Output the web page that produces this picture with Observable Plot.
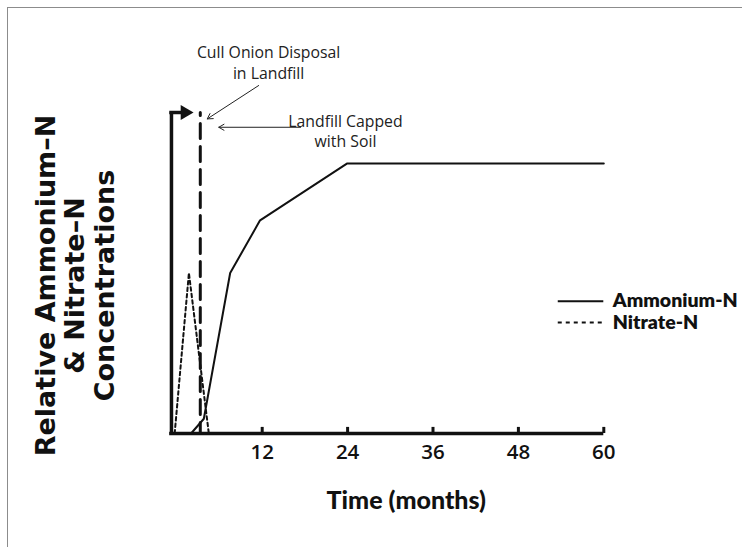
<!DOCTYPE html>
<html><head><meta charset="utf-8">
<script src="https://cdn.jsdelivr.net/npm/d3@7"></script>
<script src="https://cdn.jsdelivr.net/npm/@observablehq/plot@0.6"></script>
<style>
body{margin:0;background:#fff;}
#wrap{position:relative;width:742px;height:547px;overflow:hidden;background:#fff;}
#border{position:absolute;left:7px;top:7px;width:800px;height:600px;border-top:1.5px solid #8c8c8c;border-left:1.5px solid #8c8c8c;pointer-events:none;}
#wrap svg{position:absolute;left:0;top:0;}
</style></head><body><div id="wrap"><div id="border"></div></div>
<script>
// Data (time in months, relative concentration 0-100)
const ammoniumMonths = [2, 3.8, 7.5, 11.7, 23.9, 60];
const ammoniumLevels = [0, 4.6, 50, 66.4, 84.1, 84.1];
const nitrateMonths = [-0.3, 1.7, 4.5];
const nitrateLevels = [0, 50, 0];
const xTickValues = [12, 24, 36, 48, 60];
const tickLength = 1.9;
const cappedMonth = 3.3;          // landfill capped with soil (dashed line)
const axisStartMonth = -1;
const yAxisMonth = -0.75;
const yAxisTop = 100;
const yArrowEndMonth = 1.9;
const annotationTexts = ["Cull Onion Disposal\nin Landfill", "Landfill Capped\nwith Soil"];
const annotationMonths = [12.9, 23.7];
const annotationLevels = [115.7, 94.4];
const arrowFromMonths = [11.5, 17.4];
const arrowFromLevels = [108.4, 95.4];
const arrowToMonths = [4.28, 5.9];
const arrowToLevels = [98.0, 95.4];
const seriesNames = ["Ammonium-N", "Nitrate-N"];
const legendLevels = [41.2, 34.6];
const legendStartMonth = 53.6;
const legendEndMonth = 60;
const xTitle = "Time (months)";
const yTitle = "Relative Ammonium–N\n& Nitrate–N\nConcentrations";

const ammonium = ammoniumMonths.map((m, i) => ({month: m, level: ammoniumLevels[i]}));
const nitrate = nitrateMonths.map((m, i) => ({month: m, level: nitrateLevels[i]}));
const capped = [{month: cappedMonth, level: yAxisTop}, {month: cappedMonth, level: 0}];
const annotations = annotationTexts.map((t, i) => ({text: t, month: annotationMonths[i], level: annotationLevels[i]}));
const arrows = arrowFromMonths.map((m, i) => ({x1: m, y1: arrowFromLevels[i], x2: arrowToMonths[i], y2: arrowToLevels[i]}));
const legend = seriesNames.map((n, i) => ({name: n, level: legendLevels[i]}));

const titleFont = "Lato, 'Noto Sans', sans-serif";
const wideFont = "'DejaVu Sans', sans-serif";
const textFont = "'Open Sans', 'Noto Sans', sans-serif";

const chart = Plot.plot({
  width: 742, height: 547,
  marginLeft: 176.3, marginRight: 138.7, marginTop: 112, marginBottom: 114,
  x: {type: "linear", domain: [0, 60]},
  y: {type: "linear", domain: [0, 100], axis: null},
  style: {background: "transparent", fontFamily: textFont, color: "#111"},
  marks: [
    // axes lines
    Plot.ruleY([0], {x1: axisStartMonth, x2: 60, stroke: "#111", strokeWidth: 3.5}),
    Plot.ruleX([yAxisMonth], {y1: -0.5, y2: yAxisTop, stroke: "#111", strokeWidth: 3.5}),
    Plot.ruleY([yAxisTop], {x1: yAxisMonth - 0.24, x2: yArrowEndMonth - 0.6, stroke: "#111", strokeWidth: 3.5}),
    Plot.dot([yAxisTop], {x: yArrowEndMonth - 0.75, y: d => d, symbol: "triangle", rotate: 90, r: 5.5, fill: "#111", stroke: "none"}),
    // x ticks and labels
    Plot.ruleX(xTickValues, {y1: 0, y2: tickLength, stroke: "#111", strokeWidth: 3}),
    Plot.axisX({ticks: xTickValues, tickSize: 0, tickPadding: 11, fontSize: 20.5, fontWeight: 600, fontFamily: textFont, label: null, tickFormat: d => String(d)}),
    // capped dashed line
    Plot.line(capped, {x: "month", y: "level", stroke: "#111", strokeWidth: 3, strokeDasharray: "15,8", strokeDashoffset: 12}),
    // series
    Plot.line(nitrate, {x: "month", y: "level", stroke: "#111", strokeWidth: 2, strokeDasharray: "3.5,3"}),
    Plot.line(ammonium, {x: "month", y: "level", stroke: "#111", strokeWidth: 2}),
    // annotations
    Plot.text(annotations, {x: "month", y: "level", text: "text", fontSize: 15.8, lineHeight: 1.27, fontFamily: textFont, fill: "#222"}),
    Plot.arrow(arrows, {x1: "x1", y1: "y1", x2: "x2", y2: "y2", stroke: "#222", strokeWidth: 1, headLength: 9, bend: 0}),
    // legend
    Plot.ruleY(legend.slice(0, 1), {y: "level", x1: legendStartMonth, x2: legendEndMonth, stroke: "#111", strokeWidth: 2}),
    Plot.ruleY(legend.slice(1), {y: "level", x1: legendStartMonth, x2: legendEndMonth, stroke: "#111", strokeWidth: 2, strokeDasharray: "4,4"}),
    Plot.text(legend, {y: "level", x: legendEndMonth, text: "name", dx: 9, textAnchor: "start", fontSize: 19.5, fontWeight: 800, fontFamily: titleFont, fill: "#111"}),
    // titles
    Plot.text([xTitle], {frameAnchor: "bottom", dx: 16, dy: 75, fontSize: 25, fontWeight: 900, fontFamily: titleFont, fill: "#111"}),
    Plot.text([yTitle], {frameAnchor: "left", dx: -102, dy: 12.5, rotate: -90, textAnchor: "middle", lineAnchor: "middle", lineHeight: 1.1, fontSize: 27, fontWeight: "bold", fontFamily: wideFont, fill: "#111"})
  ]
});
document.getElementById("wrap").appendChild(chart);
</script>
</body></html>
